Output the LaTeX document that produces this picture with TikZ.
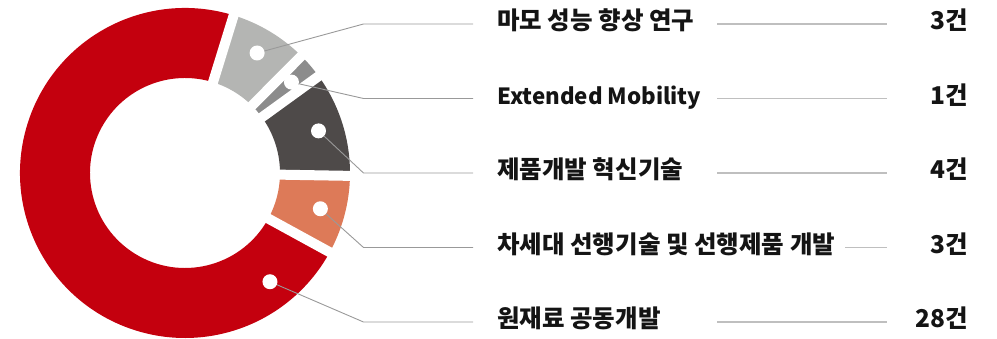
\documentclass[tikz,border=0pt]{standalone}
\usepackage{fontspec}
\setmainfont{Noto Sans CJK KR}
\usetikzlibrary{positioning,calc}
\definecolor{ringred}{HTML}{C4000E}
\definecolor{ringlight}{HTML}{B4B5B3}
\definecolor{ringmid}{HTML}{8C8C8C}
\definecolor{ringdark}{HTML}{4E4A49}
\definecolor{ringorange}{HTML}{DD7A58}

\begin{document}
\begin{tikzpicture}[x=1pt,y=1pt,
  dot/.style={circle,fill=white,inner sep=0pt,minimum size=15pt},
  lbl/.style={anchor=west,inner sep=0pt,text height=17pt,text depth=5pt,
    font=\bfseries\fontsize{24.5}{26}\selectfont,text=black!92},
  latin/.style={font=\bfseries\fontsize{22.3}{24}\selectfont},
  cnt/.style={lbl,anchor=east},
  lead/.style={draw=black!40,line width=0.9pt},
  rule/.style={draw=black!25,line width=1.2pt}]
  \useasboundingbox (0,0) rectangle (997,339);
  \coordinate (O) at (185,166);

  % ring segments and white gaps
  \begin{scope}[shift={(O)},rotate=-1]
    \foreach \a/\b/\c in {0/36.92/ringdark,36.92/46.15/ringmid,46.15/73.85/ringlight,
                          73.85/332.31/ringred,332.31/360/ringorange}
      \fill[\c] (\a:165) arc[start angle=\a,end angle=\b,radius=165]
                -- (\b:95) arc[start angle=\b,end angle=\a,radius=95] -- cycle;
    \foreach \a in {0,36.92,46.15,73.85,332.31}
      \draw[white,line width=10pt] (0,0) -- (\a:172);
    \node[dot] (d1) at (60:140)     {};
    \node[dot] (d2) at (41.5:140)   {};
    \node[dot] (d3) at (18.5:140)   {};
    \node[dot] (d4) at (-13.8:140)  {};
    \node[dot] (d5) at (-51:138)    {};
  \end{scope}

  % labels
  \node[lbl] (l1) at (497,315)        {마모 성능 향상 연구};
  \node[lbl,latin] (l2) at (497,240.5) {Extended Mobility};
  \node[lbl] (l3) at (497,166)        {제품개발 혁신기술};
  \node[lbl] (l4) at (497,91.5)       {차세대 선행기술 및 선행제품 개발};
  \node[lbl] (l5) at (497,17)         {원재료 공동개발};

  \node[cnt] (n1) at (968,315)    {3건};
  \node[cnt] (n2) at (968,240.5)  {1건};
  \node[cnt] (n3) at (968,166)    {4건};
  \node[cnt] (n4) at (968,91.5)   {3건};
  \node[cnt] (n5) at (968,17)     {28건};

  % leaders
  \coordinate (e1) at (363.5,315);
  \coordinate (e2) at (363.5,240.5);
  \coordinate (e3) at (363.5,166);
  \coordinate (e4) at (363.5,91.5);
  \coordinate (e5) at (363.5,17);
  \foreach \i in {1,...,5}
    \draw[lead] (d\i) -- (e\i) -- ([xshift=-24pt]l\i.west);

  \draw[rule] ([xshift=220pt]l1.west) -- ([xshift=-81pt]n1.east);
  \draw[rule] ([xshift=220pt]l2.west) -- ([xshift=-81pt]n2.east);
  \draw[rule] ([xshift=220pt]l3.west) -- ([xshift=-81pt]n3.east);
  \draw[rule] ([xshift=10pt]l4.east)  -- ([xshift=-81pt]n4.east);
  \draw[rule] ([xshift=220pt]l5.west) -- ([xshift=-81pt]n5.east);
\end{tikzpicture}
\end{document}
